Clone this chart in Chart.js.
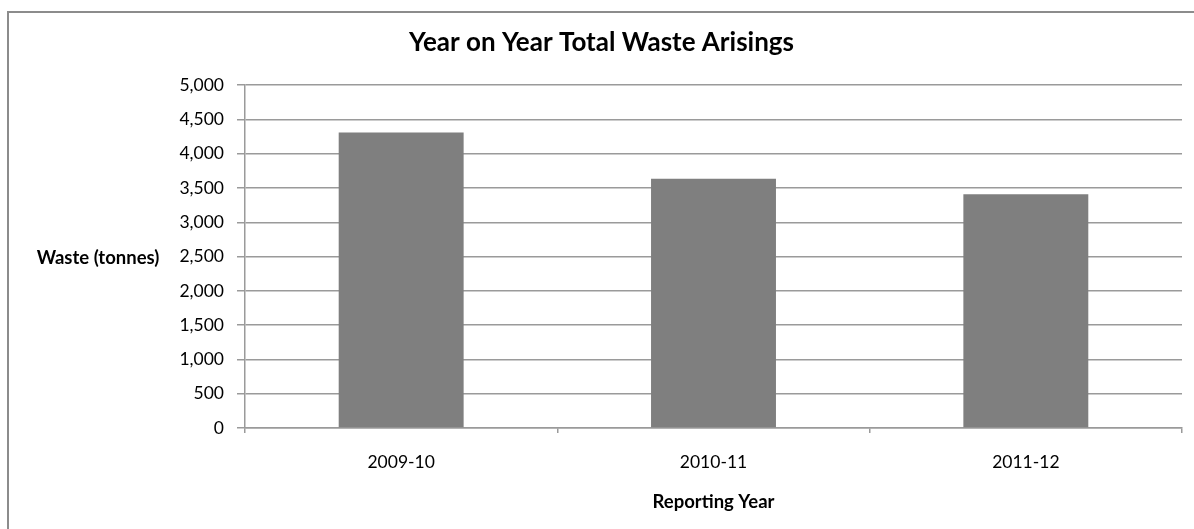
<!DOCTYPE html>
<html><head><meta charset="utf-8">
<script src="https://cdn.jsdelivr.net/npm/chart.js@4/dist/chart.umd.min.js"></script>
<style>
html,body{margin:0;padding:0;background:#fff;overflow:hidden}
canvas{display:block}
</style></head>
<body>
<canvas id="c" width="1194" height="529"></canvas>
<script>
const categories = ['2009-10', '2010-11', '2011-12'];
const wasteTonnes = [4310, 3634, 3411];
const yTicks = [0, 500, 1000, 1500, 2000, 2500, 3000, 3500, 4000, 4500, 5000];
const chartTitle = 'Year on Year Total Waste Arisings';
const xTitle = 'Reporting Year';
const yTitle = 'Waste (tonnes)';

const FONT = 'Lato';
const GRID = '#9a9a9a';

const framePlugin = {
  id: 'frame',
  beforeDraw(chart) {
    const ctx = chart.ctx;
    ctx.save();
    ctx.fillStyle = '#fff';
    ctx.fillRect(0, 0, chart.width, chart.height);
    ctx.strokeStyle = '#8c8c8c';
    ctx.lineWidth = 2;
    ctx.strokeRect(8, 12, chart.width + 20, chart.height + 20);
    ctx.restore();
  },
  afterDraw(chart) {
    const ctx = chart.ctx;
    const a = chart.chartArea;
    ctx.save();
    ctx.font = 'bold 18.5px ' + FONT;
    ctx.fillStyle = '#000';
    ctx.textAlign = 'center';
    ctx.textBaseline = 'middle';
    ctx.fillText(yTitle, 98, (a.top + a.bottom) / 2 + 1);
    ctx.restore();
  }
};

new Chart(document.getElementById('c'), {
  type: 'bar',
  data: {
    labels: categories,
    datasets: [{
      data: wasteTonnes,
      backgroundColor: '#7f7f7f',
      borderWidth: 0,
      barPercentage: 1,
      categoryPercentage: 0.4
    }]
  },
  options: {
    responsive: false,
    animation: false,
    layout: { padding: { left: 21, right: 12, top: 0, bottom: 0 } },
    plugins: {
      legend: { display: false },
      tooltip: { enabled: false },
      title: {
        display: true,
        text: chartTitle,
        color: '#000',
        font: { family: FONT, size: 26, weight: 'bold', lineHeight: 1.2 },
        padding: { top: 27, bottom: 27 }
      }
    },
    scales: {
      x: {
        grid: { drawOnChartArea: false, offset: true, tickLength: 5, color: GRID, lineWidth: 1.5 },
        border: { color: GRID, width: 1.5 },
        ticks: { color: '#000', font: { family: FONT, size: 17.5 }, padding: 19 },
        title: {
          display: true, text: xTitle, color: '#000',
          font: { family: FONT, size: 18.5, weight: 'bold', lineHeight: 1.2 },
          padding: { top: 0, bottom: 16 }
        },
        afterFit(s) { s.height = 101; }
      },
      y: {
        min: 0, max: 5000,
        afterBuildTicks(s) { s.ticks = yTicks.map(v => ({ value: v })); },
        grid: { color: GRID, lineWidth: 1.5, tickLength: 8 },
        border: { color: GRID, width: 1.5 },
        ticks: {
          color: '#000', font: { family: FONT, size: 17.5 }, padding: 13,
          callback: v => v.toLocaleString('en-US')
        },
        afterFit(s) { s.width = 224; }
      }
    }
  },
  plugins: [framePlugin]
});
</script>
</body></html>
